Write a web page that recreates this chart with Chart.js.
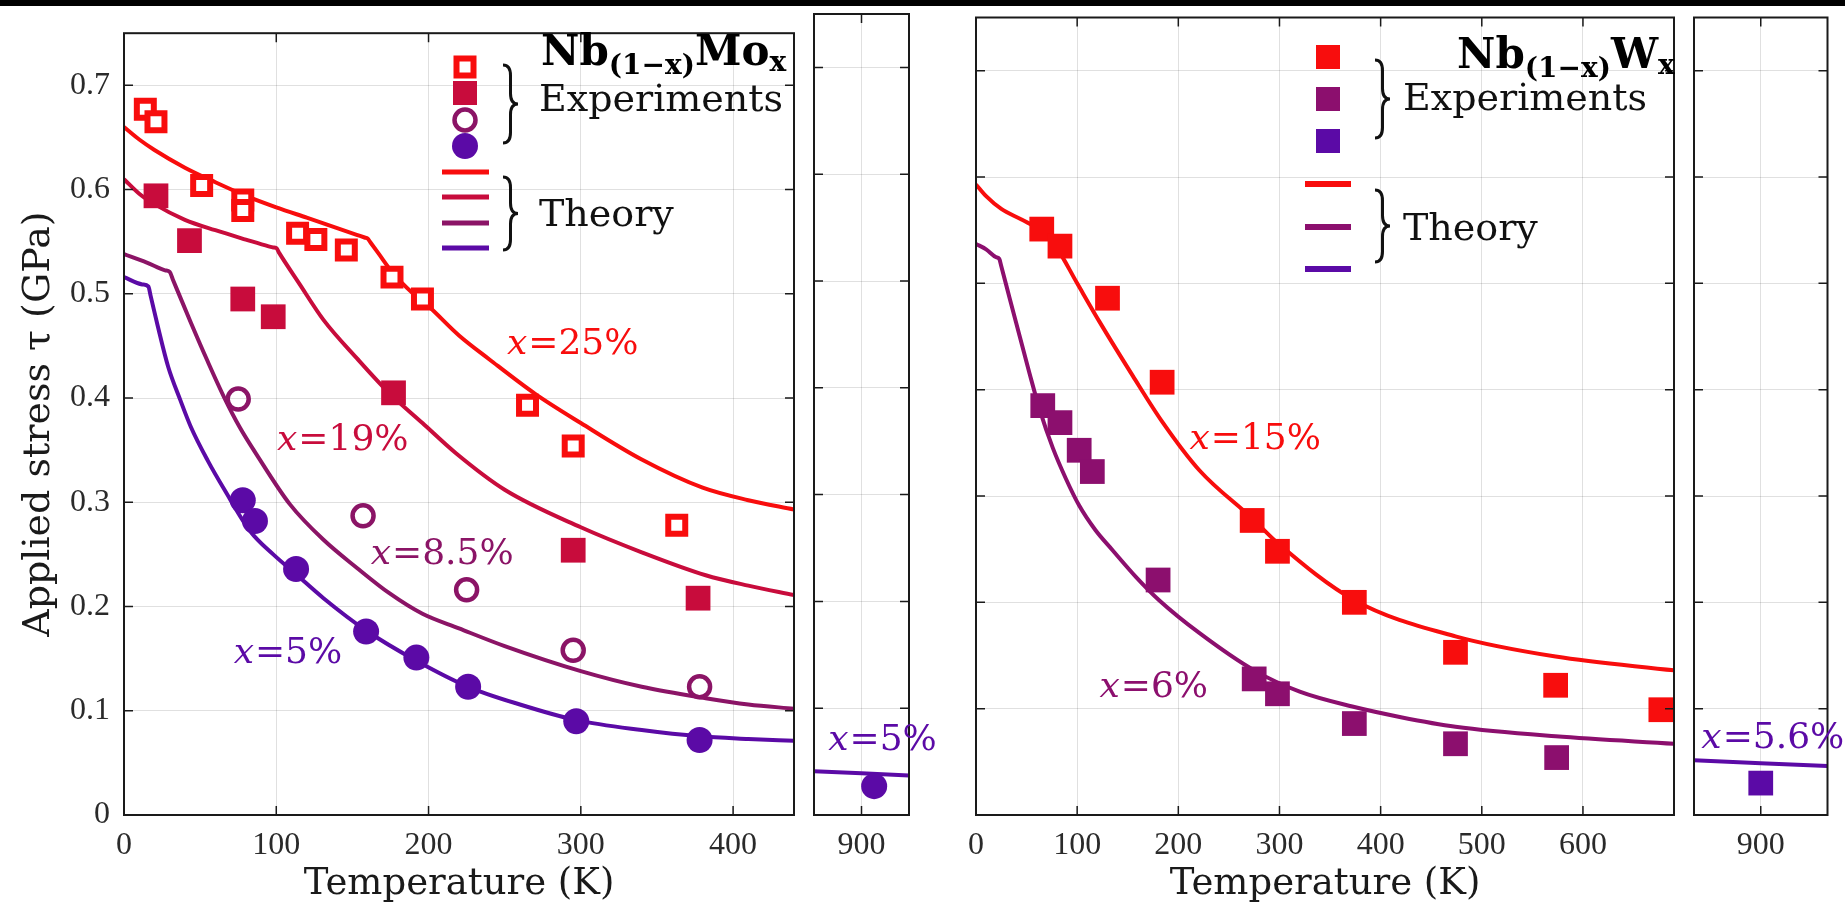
<!DOCTYPE html>
<html>
<head>
<meta charset="utf-8">
<title>Applied stress vs temperature - NbMo / NbW</title>
<script src="https://cdn.jsdelivr.net/npm/chart.js@4.4.1/dist/chart.umd.min.js"></script>
<style>
    html, body { margin: 0; padding: 0; background: #fff; }
    #stage { position: relative; width: 1845px; height: 909px; overflow: hidden; }
    #stage canvas { position: absolute; left: 0; top: 0; }
    #topbar { position: absolute; left: 0; top: 0; width: 1845px; height: 6px; background: #000; }
</style>
</head>
<body>
<div id="stage">
    <canvas id="moLow" width="1845" height="909"></canvas>
    <canvas id="moHigh" width="1845" height="909"></canvas>
    <canvas id="wLow" width="1845" height="909"></canvas>
    <canvas id="wHigh" width="1845" height="909"></canvas>
    <div id="topbar"></div>
</div>
<script>
// ---- data (temperature in K, stress in GPa) ----
const yTicks = [0, 0.1, 0.2, 0.3, 0.4, 0.5, 0.6, 0.7];
const moLowTicks = [0, 100, 200, 300, 400];
const wLowTicks = [0, 100, 200, 300, 400, 500, 600];
const highTicks = [900];

// Nb(1-x)Mo(x) theory curves
const moThT25 = [0, 10, 20, 40, 60, 80, 100, 120, 140, 155, 158, 160, 162, 167, 176, 190, 200, 220, 240, 270, 300, 340, 380, 410, 440];
const moTh25  = [0.660, 0.648, 0.638, 0.621, 0.607, 0.594, 0.583, 0.573, 0.563, 0.5555, 0.554, 0.553, 0.549, 0.539, 0.521, 0.500, 0.488, 0.460, 0.437, 0.404, 0.376, 0.341, 0.314, 0.302, 0.293];
const moThT19 = [0, 10, 20, 40, 60, 80, 95, 98, 100, 102, 115, 131, 153, 174, 196, 218, 250, 300, 340, 382, 410, 440];
const moTh19  = [0.610, 0.596, 0.586, 0.571, 0.561, 0.552, 0.5455, 0.5445, 0.544, 0.539, 0.510, 0.475, 0.438, 0.405, 0.376, 0.347, 0.312, 0.276, 0.252, 0.230, 0.220, 0.211];
const moThT85 = [0, 15, 27, 30, 32, 44, 55, 66, 76, 87, 109, 131, 153, 174, 196, 220, 250, 300, 340, 382, 410, 440];
const moTh85  = [0.538, 0.530, 0.5225, 0.521, 0.514, 0.472, 0.435, 0.400, 0.372, 0.346, 0.298, 0.264, 0.237, 0.213, 0.193, 0.179, 0.162, 0.138, 0.123, 0.112, 0.106, 0.102];
const moThT5  = [0, 12, 16, 17.5, 22, 29, 37, 44, 55, 66, 83, 98, 113, 131, 159, 192, 226, 260, 297, 340, 378, 410, 440];
const moTh5   = [0.516, 0.509, 0.507, 0.498, 0.470, 0.430, 0.398, 0.372, 0.340, 0.312, 0.272, 0.250, 0.231, 0.208, 0.177, 0.148, 0.123, 0.106, 0.091, 0.0815, 0.0755, 0.073, 0.0712];
const moThHighT = [870, 930];
const moThHigh  = [0.041, 0.037];

// Nb(1-x)Mo(x) experiments
const moExT25 = [14, 21, 51, 78, 78, 114, 126, 146, 176, 196, 265, 295, 363];
const moEx25  = [0.677, 0.665, 0.604, 0.590, 0.580, 0.558, 0.552, 0.542, 0.516, 0.495, 0.393, 0.354, 0.278];
const moExT19 = [21, 43, 78, 98, 177, 295, 377];
const moEx19  = [0.594, 0.551, 0.495, 0.478, 0.405, 0.254, 0.208];
const moExT85 = [75, 157, 225, 295, 378];
const moEx85  = [0.399, 0.287, 0.216, 0.158, 0.123];
const moExT5  = [78, 86, 113, 159, 192, 226, 297, 378];
const moEx5   = [0.302, 0.282, 0.236, 0.176, 0.151, 0.123, 0.090, 0.072];
const moExHighT = [908];
const moExHigh  = [0.027];

// Nb(1-x)W(x) theory curves
const wThT15 = [0, 10, 25, 45, 65, 80, 100, 122, 155, 184, 221, 273, 298, 374, 474, 573, 690];
const wTh15  = [0.593, 0.582, 0.570, 0.560, 0.549, 0.533, 0.500, 0.464, 0.413, 0.370, 0.324, 0.279, 0.256, 0.202, 0.168, 0.149, 0.136];
const wThT6  = [0, 10, 20, 23, 25, 33, 43, 53, 63, 76, 89, 102, 118, 135, 158, 181, 221, 275, 320, 372, 420, 474, 573, 690];
const wTh6   = [0.537, 0.532, 0.5245, 0.523, 0.516, 0.487, 0.451, 0.415, 0.381, 0.345, 0.316, 0.291, 0.268, 0.249, 0.224, 0.202, 0.171, 0.136, 0.116, 0.102, 0.092, 0.083, 0.074, 0.067];
const wThHighT = [830, 970];
const wThHigh  = [0.0515, 0.046];

// Nb(1-x)W(x) experiments
const wExT15 = [65, 83, 130, 184, 273, 298, 374, 474, 573, 677];
const wEx15  = [0.551, 0.535, 0.486, 0.407, 0.277, 0.248, 0.200, 0.153, 0.122, 0.099];
const wExT6  = [66, 83, 102, 115, 180, 275, 298, 374, 474, 574];
const wEx6   = [0.385, 0.369, 0.343, 0.323, 0.221, 0.128, 0.114, 0.086, 0.067, 0.054];
const wExHighT = [900];
const wExHigh  = [0.030];

// ---- styles ----
const RED = '#f80d0d';
const CRIMSON = '#c80c3c';
const PLUM = '#8b1466';
const INDIGO = '#5b0aa6';
const W_PLUM = '#8c0f6e';
const SERIF = '"DejaVu Serif", serif';
const TICK_FONT = { family: '"Liberation Serif", serif', size: 32 };

function pts(xs, ys) {
    return xs.map((x, i) => ({ x: x, y: ys[i] }));
}

function theory(xs, ys, color) {
    return {
        data: pts(xs, ys), showLine: true, borderColor: color, borderWidth: 4,
        pointRadius: 0, pointHoverRadius: 0, fill: false, order: 2,
        cubicInterpolationMode: 'monotone', borderJoinStyle: 'round'
    };
}

function markers(xs, ys, color, kind) {
    const ds = { data: pts(xs, ys), order: 1, clip: false, showLine: false, borderColor: color };
    if (kind === 'sqOpen') {
        Object.assign(ds, { pointStyle: 'rect', pointRadius: 12, borderWidth: 6, backgroundColor: '#fff' });
    } else if (kind === 'sq') {
        Object.assign(ds, { pointStyle: 'rect', pointRadius: 17.5, borderWidth: 0, backgroundColor: color });
    } else if (kind === 'ciOpen') {
        Object.assign(ds, { pointStyle: 'circle', pointRadius: 10.5, borderWidth: 4.5, backgroundColor: 'rgba(0,0,0,0)' });
    } else {
        Object.assign(ds, { pointStyle: 'circle', pointRadius: 13, borderWidth: 0, backgroundColor: color });
    }
    return ds;
}

// labels, legends and titles drawn on each panel
const extras = {
    moLow: {
        notes: [
            { T: 251.5, tau: 0.451, text: '=25%', color: RED },
            { T: 100.5, tau: 0.3595, text: '=19%', color: CRIMSON },
            { T: 162, tau: 0.250, text: '=8.5%', color: PLUM },
            { T: 72, tau: 0.1545, text: '=5%', color: INDIGO }
        ],
        key: {
            marks: [
                { kind: 'sqOpen', color: RED, x: 465, y: 67 },
                { kind: 'sq', color: CRIMSON, x: 465, y: 93 },
                { kind: 'ciOpen', color: PLUM, x: 465, y: 120 },
                { kind: 'ci', color: INDIGO, x: 465, y: 146 }
            ],
            lines: { x1: 442, x2: 489, width: 5, items: [[RED, 172], [CRIMSON, 197], [PLUM, 223], [INDIGO, 248]] },
            braces: [[503, 65, 143], [503, 177, 250]],
            words: [['Experiments', 539, 111], ['Theory', 539, 226]],
            title: { x: 541, y: 65, base: 'Nb', sub: '(1\u2212x)', el: 'Mo' }
        }
    },
    moHigh: {
        notes: [{ T: 879, tau: 0.070, text: '=5%', color: INDIGO }]
    },
    wLow: {
        notes: [
            { T: 211, tau: 0.353, text: '=15%', color: RED },
            { T: 122, tau: 0.120, text: '=6%', color: W_PLUM }
        ],
        key: {
            marks: [
                { kind: 'sq', color: RED, x: 1328, y: 57 },
                { kind: 'sq', color: W_PLUM, x: 1328, y: 99 },
                { kind: 'sq', color: INDIGO, x: 1328, y: 141 }
            ],
            lines: { x1: 1305, x2: 1351, width: 6, items: [[RED, 184], [W_PLUM, 227], [INDIGO, 269]] },
            braces: [[1375, 60, 138], [1375, 190, 262]],
            words: [['Experiments', 1403, 110], ['Theory', 1403, 240]],
            title: { x: 1457, y: 68, base: 'Nb', sub: '(1\u2212x)', el: 'W' }
        }
    },
    wHigh: {
        notes: [{ T: 837.7, tau: 0.072, text: '=5.6%', color: INDIGO }]
    }
};

function drawMark(ctx, kind, color, x, y) {
    ctx.save();
    ctx.fillStyle = color;
    ctx.strokeStyle = color;
    ctx.beginPath();
    if (kind === 'sqOpen') {
        ctx.lineWidth = 6;
        ctx.strokeRect(x - 8.5, y - 8.5, 17, 17);
    } else if (kind === 'sq') {
        ctx.fillRect(x - 12, y - 12, 24, 24);
    } else if (kind === 'ciOpen') {
        ctx.lineWidth = 4.5;
        ctx.arc(x, y, 10.5, 0, Math.PI * 2);
        ctx.stroke();
    } else {
        ctx.arc(x, y, 13, 0, Math.PI * 2);
        ctx.fill();
    }
    ctx.restore();
}

function drawBrace(ctx, x, y1, y2, w) {
    const ym = (y1 + y2) / 2;
    const xm = x + w / 2;
    const c = w * 0.7;
    ctx.beginPath();
    ctx.moveTo(x, y1);
    ctx.quadraticCurveTo(xm, y1, xm, y1 + c);
    ctx.lineTo(xm, ym - c);
    ctx.quadraticCurveTo(xm, ym, x + w, ym);
    ctx.quadraticCurveTo(xm, ym, xm, ym + c);
    ctx.lineTo(xm, y2 - c);
    ctx.quadraticCurveTo(xm, y2, x, y2);
    ctx.stroke();
}

Chart.register({
    id: 'frame',
    afterDatasetsDraw(chart) {
        const { ctx, chartArea: a, scales } = chart;
        ctx.save();
        ctx.strokeStyle = '#1a1a1a';
        ctx.lineWidth = 1.5;
        ctx.beginPath();
        scales.x.ticks.forEach(t => {
            const px = scales.x.getPixelForValue(t.value);
            ctx.moveTo(px, a.bottom); ctx.lineTo(px, a.bottom - 9);
            ctx.moveTo(px, a.top); ctx.lineTo(px, a.top + 9);
        });
        scales.y.ticks.forEach(t => {
            const py = scales.y.getPixelForValue(t.value);
            ctx.moveTo(a.left, py); ctx.lineTo(a.left + 9, py);
            ctx.moveTo(a.right, py); ctx.lineTo(a.right - 9, py);
        });
        ctx.stroke();
        ctx.lineWidth = 2;
        ctx.strokeRect(a.left, a.top, a.right - a.left, a.bottom - a.top);
        ctx.restore();

        const ex = extras[chart.canvas.id];
        if (!ex) return;
        ctx.save();
        // curve labels
        (ex.notes || []).forEach(n => {
            const x = scales.x.getPixelForValue(n.T);
            const y = scales.y.getPixelForValue(n.tau);
            ctx.fillStyle = n.color;
            ctx.textBaseline = 'middle';
            ctx.textAlign = 'left';
            ctx.font = 'italic 36px ' + SERIF;
            ctx.fillText('x', x, y);
            const w = ctx.measureText('x').width;
            ctx.font = '36px ' + SERIF;
            ctx.fillText(n.text, x + w + 1, y);
        });
        // hand-made legend
        const k = ex.key;
        if (k) {
            k.marks.forEach(m => drawMark(ctx, m.kind, m.color, m.x, m.y));
            ctx.lineWidth = k.lines.width;
            k.lines.items.forEach(([c, y]) => {
                ctx.strokeStyle = c;
                ctx.beginPath();
                ctx.moveTo(k.lines.x1, y); ctx.lineTo(k.lines.x2, y);
                ctx.stroke();
            });
            ctx.strokeStyle = '#111';
            ctx.lineWidth = 3;
            k.braces.forEach(([x, y1, y2]) => drawBrace(ctx, x, y1, y2, 15));
            ctx.fillStyle = '#111';
            ctx.textBaseline = 'alphabetic';
            ctx.font = '38px ' + SERIF;
            k.words.forEach(([t, x, y]) => ctx.fillText(t, x, y));
            // alloy title with subscripts
            let x = k.title.x;
            const y = k.title.y;
            ctx.fillStyle = '#000';
            ctx.font = 'bold 42px ' + SERIF;
            ctx.fillText(k.title.base, x, y);
            x += ctx.measureText(k.title.base).width;
            ctx.font = 'bold 28px ' + SERIF;
            ctx.fillText(k.title.sub, x, y + 9);
            x += ctx.measureText(k.title.sub).width;
            ctx.font = 'bold 42px ' + SERIF;
            ctx.fillText(k.title.el, x, y);
            x += ctx.measureText(k.title.el).width;
            ctx.font = 'bold 28px ' + SERIF;
            ctx.fillText('x', x, y + 6);
        }
        ctx.restore();
    }
});

function makePanel(id, cfg) {
    return new Chart(document.getElementById(id), {
        type: 'scatter',
        data: { datasets: cfg.datasets },
        options: {
            responsive: false,
            animation: false,
            events: [],
            layout: { padding: { left: cfg.padL, right: cfg.padR, top: 14, bottom: 0 } },
            plugins: { legend: { display: false }, tooltip: { enabled: false } },
            scales: {
                x: {
                    type: 'linear', min: cfg.xMin, max: cfg.xMax,
                    afterBuildTicks: s => { s.ticks = cfg.xTicks.map(v => ({ value: v })); },
                    afterFit: s => { s.height = 94; },
                    grid: { color: 'rgba(0,0,0,0.12)', lineWidth: 1, drawTicks: false },
                    border: { display: false },
                    ticks: { font: TICK_FONT, color: '#2a2a2a', padding: 11, maxRotation: 0 },
                    title: {
                        display: cfg.xTitle, text: 'Temperature (K)', color: '#1a1a1a',
                        font: { family: SERIF, size: 37, lineHeight: 1 }, padding: { top: 0, bottom: 6 }
                    }
                },
                y: {
                    type: 'linear', min: 0, max: 0.75,
                    afterBuildTicks: s => { s.ticks = yTicks.map(v => ({ value: v })); },
                    afterFit: s => { s.width = cfg.yWidth; },
                    grid: { color: 'rgba(0,0,0,0.12)', lineWidth: 1, drawTicks: false },
                    border: { display: false },
                    ticks: {
                        display: cfg.yLabels, font: TICK_FONT, color: '#2a2a2a', padding: 14,
                        callback: v => (v === 0 ? '0' : v.toFixed(1))
                    },
                    title: {
                        display: cfg.yLabels, text: 'Applied stress \u03c4 (GPa)', color: '#1a1a1a',
                        font: { family: SERIF, size: 38, lineHeight: 1 }, padding: { top: 20, bottom: 0 }
                    }
                }
            }
        }
    });
}

makePanel('moLow', {
    padL: 0, padR: 1845 - 794, yWidth: 124, yLabels: true, xTitle: true,
    xMin: 0, xMax: 440, xTicks: moLowTicks,
    datasets: [
        theory(moThT25, moTh25, RED),
        theory(moThT19, moTh19, CRIMSON),
        theory(moThT85, moTh85, PLUM),
        theory(moThT5, moTh5, INDIGO),
        markers(moExT25, moEx25, RED, 'sqOpen'),
        markers(moExT19, moEx19, CRIMSON, 'sq'),
        markers(moExT85, moEx85, PLUM, 'ciOpen'),
        markers(moExT5, moEx5, INDIGO, 'ci')
    ]
});

makePanel('moHigh', {
    padL: 814, padR: 1845 - 909, yWidth: 0, yLabels: false, xTitle: false,
    xMin: 870, xMax: 930, xTicks: highTicks,
    datasets: [
        theory(moThHighT, moThHigh, INDIGO),
        markers(moExHighT, moExHigh, INDIGO, 'ci')
    ]
});

makePanel('wLow', {
    padL: 976, padR: 1845 - 1674, yWidth: 0, yLabels: false, xTitle: true,
    xMin: 0, xMax: 690, xTicks: wLowTicks,
    datasets: [
        theory(wThT15, wTh15, RED),
        theory(wThT6, wTh6, W_PLUM),
        markers(wExT15, wEx15, RED, 'sq'),
        markers(wExT6, wEx6, W_PLUM, 'sq')
    ]
});

makePanel('wHigh', {
    padL: 1694, padR: 1845 - 1839, yWidth: 0, yLabels: false, xTitle: false,
    xMin: 830, xMax: 970, xTicks: highTicks,
    datasets: [
        theory(wThHighT, wThHigh, INDIGO),
        markers(wExHighT, wExHigh, INDIGO, 'sq')
    ]
});
</script>
</body>
</html>
